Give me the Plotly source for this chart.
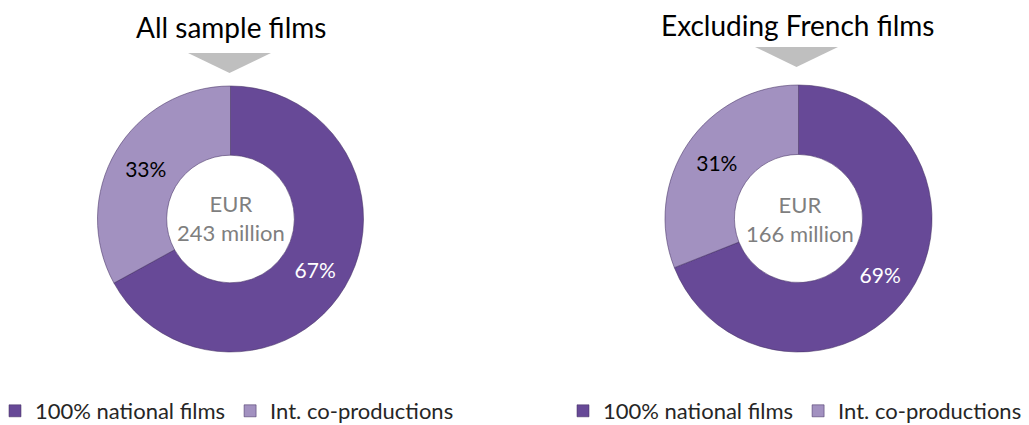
import plotly.graph_objects as go

categories = ["100% national films", "Int. co-productions"]
all_films_share = [67, 33]
excl_french_share = [69, 31]
panel_titles = ["All sample films", "Excluding French films"]
center_texts = ["EUR<br>243 million", "EUR<br>166 million"]

DARK = "#674997"
LIGHT = "#a291c0"
FONT = "Lato"
W, H = 1029, 425

def px_x(x):
    return x / W

def px_y(y):
    return 1 - y / H

fig = go.Figure()

panels = [
    dict(values=all_films_share, dom_x=(97, 364), dom_y=(86, 352), legend="legend", suffix=""),
    dict(values=excl_french_share, dom_x=(665, 932), dom_y=(85, 352), legend="legend2", suffix="\u200b"),
]

for p in panels:
    fig.add_trace(go.Pie(
        labels=[c + p["suffix"] for c in categories],
        values=p["values"],
        hole=0.48,
        sort=False,
        direction="clockwise",
        rotation=0,
        marker=dict(colors=[DARK, LIGHT], line=dict(color="rgba(70,50,100,0.55)", width=1)),
        texttemplate="%{value}%",
        textposition="inside",
        insidetextorientation="horizontal",
        textfont=dict(family=FONT, size=21, color=["white", "black"]),
        hoverinfo="label+percent",
        domain=dict(x=[px_x(p["dom_x"][0]), px_x(p["dom_x"][1])],
                    y=[px_y(p["dom_y"][1]), px_y(p["dom_y"][0])]),
        legend=p["legend"],
        showlegend=True,
    ))

annotations = []
shapes = []
title_pos = [(230.5, 27), (797, 25)]
center_pos = [(230.5, 218), (800, 219)]
arrow_pos = [(188, 271, 53, 73), (755, 838, 47, 67)]
for i in range(2):
    tx, ty = title_pos[i]
    annotations.append(dict(text=panel_titles[i], x=px_x(tx), y=px_y(ty), xref="paper", yref="paper",
                            showarrow=False, xanchor="center", yanchor="middle",
                            font=dict(family=FONT, size=28, color="black")))
    cx, cy = center_pos[i]
    annotations.append(dict(text=center_texts[i], x=px_x(cx), y=px_y(cy), xref="paper", yref="paper",
                            showarrow=False, xanchor="center", yanchor="middle",
                            font=dict(family=FONT, size=22, color="#7f7f7f")))
    x0, x1, y0, y1 = arrow_pos[i]
    xm = (x0 + x1) / 2
    shapes.append(dict(type="path", xref="paper", yref="paper",
                       path=f"M {px_x(x0)} {px_y(y0)} L {px_x(x1)} {px_y(y0)} L {px_x(xm)} {px_y(y1)} Z",
                       fillcolor="#bfbfbf", line=dict(width=0)))

legend_style = dict(orientation="h", yanchor="middle", xanchor="left",
                    font=dict(family=FONT, size=22, color="#262626"),
                    bgcolor="rgba(0,0,0,0)", itemclick=False, itemdoubleclick=False)

fig.update_layout(
    width=W, height=H,
    margin=dict(l=0, r=0, t=0, b=0, autoexpand=False),
    paper_bgcolor="white",
    plot_bgcolor="white",
    annotations=annotations,
    shapes=shapes,
    legend=dict(x=px_x(-5), y=px_y(411), **legend_style),
    legend2=dict(x=px_x(563), y=px_y(411), **legend_style),
)

fig.write_html("out.html", config={"displayModeBar": False},
               post_script="document.body.style.margin='0';")
